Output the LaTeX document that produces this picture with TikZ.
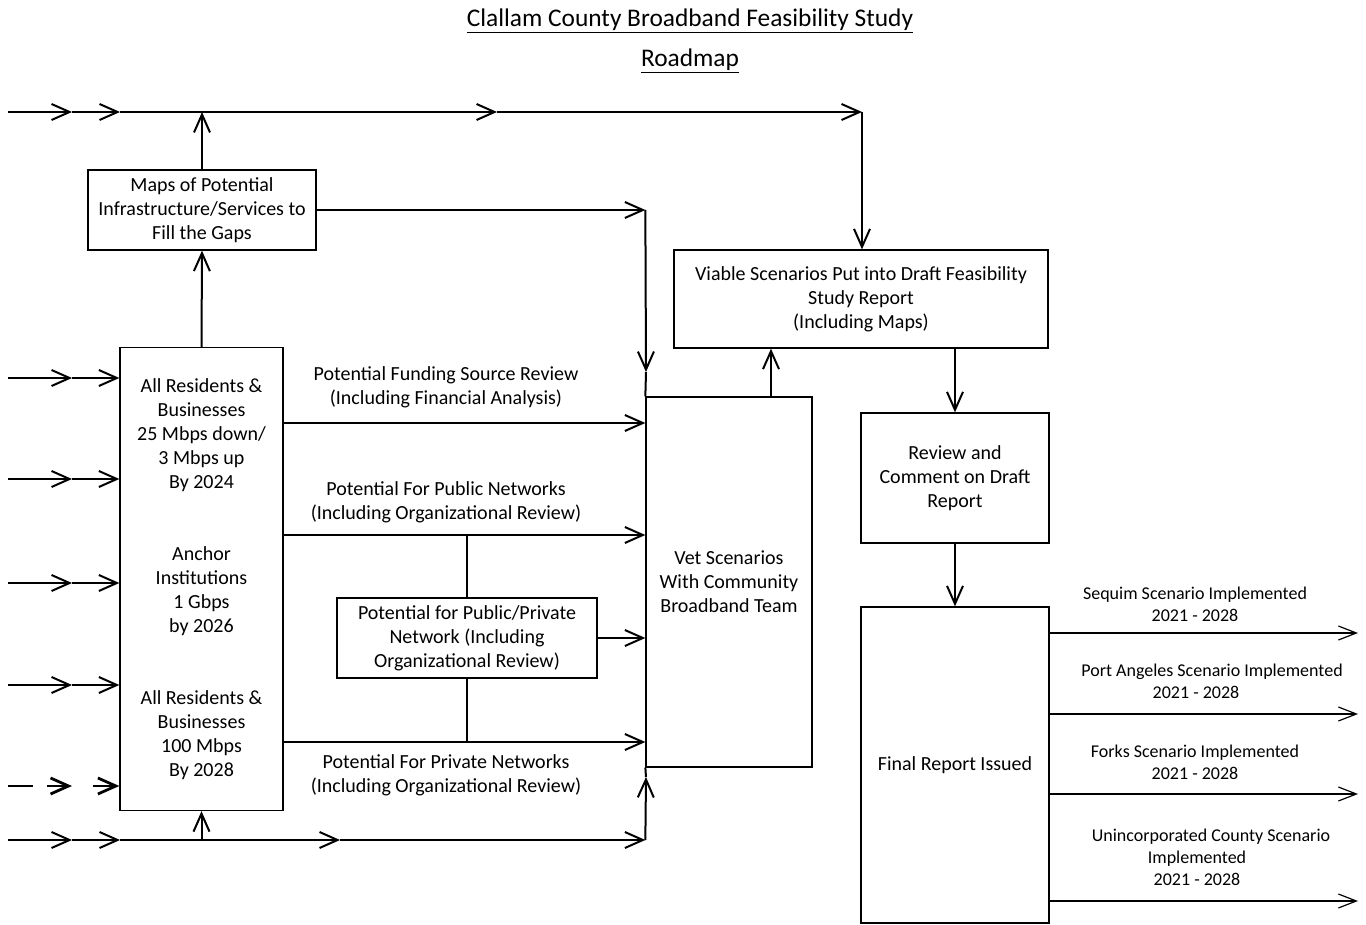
\documentclass[tikz,border=0pt]{standalone}
\usepackage{fontspec}
\setmainfont{Carlito}
\usetikzlibrary{arrows.meta}
\begin{document}
\begin{tikzpicture}[x=1pt,y=-1pt,
  box/.style={draw, line width=1.3pt, align=center, inner sep=0pt, font=\fontsize{20}{24}\selectfont},
  lbl/.style={align=center, inner sep=0pt, font=\fontsize{20}{24}\selectfont},
  tlbl/.style={align=center, inner sep=0pt, font=\fontsize{25.4}{30}\selectfont},
  slbl/.style={align=center, inner sep=0pt, font=\fontsize{18}{22}\selectfont},
  arr/.style={line width=2pt, -{Straight Barb[length=18pt,width=16pt]}},
  ln/.style={line width=2pt},
  midln/.style={line width=1.5pt},
  thinarr/.style={line width=1.2pt, -{Straight Barb[length=18pt,width=14pt]}},
]
\useasboundingbox[fill=white] (0,0) rectangle (1366,925);

% titles
\node[tlbl] (title) at (690,21) {\underline{Clallam County Broadband Feasibility Study}};
\node[tlbl] (rm) at (690,61) {\underline{Roadmap}};

% boxes
\node[box, minimum width=228pt, minimum height=80pt] (maps) at (202,210) {Maps of Potential\\Infrastructure/Services to\\Fill the Gaps};
\node[box, minimum width=163pt, minimum height=463pt] (goals) at (201.5,579) {All Residents \&\\Businesses\\25 Mbps down/\\3 Mbps up\\By 2024\\[48pt]Anchor\\Institutions\\1 Gbps\\by 2026\\[48pt]All Residents \&\\Businesses\\100 Mbps\\By 2028};
\node[box, minimum width=166pt, minimum height=370pt] (vet) at (729,582) {Vet Scenarios\\With Community\\Broadband Team};
\node[box, minimum width=374pt, minimum height=98pt] (viable) at (861,299) {Viable Scenarios Put into Draft Feasibility\\Study Report\\(Including Maps)};
\node[box, minimum width=188pt, minimum height=130pt] (review) at (955,478) {Review and\\Comment on Draft\\Report};
\node[box, minimum width=188pt, minimum height=316pt] (final) at (955,765) {Final Report Issued};
\node[box, minimum width=260pt, minimum height=80pt] (pp) at (467,638) {Potential for Public/Private\\Network (Including\\Organizational Review)};

% top line
\coordinate (tA) at (8,112);
\coordinate (tB) at (72,112);
\coordinate (tC) at (120,112);
\coordinate (tD) at (497,112);
\coordinate (tE) at (862,112);
\draw[arr] (tA) -- (tB);
\draw[arr] (tB) -- (tC);
\draw[arr] (tC) -- (tD);
\draw[arr] (tD) -- (tE);
\draw[arr] (tE) -- (tE |- viable.north);
\draw[arr] (maps.north) -- (maps.north |- tA);
\draw[arr] (goals.north) -- (maps.south);

% maps to vet
\coordinate (m1) at (vet.west |- maps.east);
\coordinate (m2) at (646,372);
\draw[arr] (maps.east) -- (m1);
\draw[arr] (m1) -- (m2);
\draw[ln] (m2) -- (vet.north west);

% middle connectors
\coordinate (yF) at (0,423);
\coordinate (yPu) at (0,535);
\coordinate (yPr) at (0,742);
\draw[arr] (goals.east |- yF) -- (vet.west |- yF);
\draw[arr] (goals.east |- yPu) -- (vet.west |- yPu);
\draw[arr] (goals.east |- yPr) -- (vet.west |- yPr);
\draw[midln] (pp.north |- yPu) -- (pp.north);
\draw[midln] (pp.south) -- (pp.south |- yPr);
\draw[arr] (pp.east) -- (vet.west |- pp.east);

\node[lbl] (lF) at (446,387) {Potential Funding Source Review\\(Including Financial Analysis)};
\node[lbl] (lPu) at (446,502) {Potential For Public Networks\\(Including Organizational Review)};
\node[lbl] (lPr) at (446,775) {Potential For Private Networks\\(Including Organizational Review)};

% left inputs
\foreach \y/\n in {378/1,479/2,583/3,685/4}{
  \coordinate (ia\n) at (8,\y);
  \coordinate (ib\n) at (72,\y);
  \draw[arr] (ia\n) -- (ib\n);
  \draw[arr] (ib\n) -- (goals.west |- ib\n);
}
\coordinate (d1) at (8,786);
\coordinate (d2) at (72,786);
\draw[arr, line width=2.8pt, dash pattern=on 25pt off 14pt] (d1) -- (d2);
\draw[arr, line width=2.8pt, dash pattern=on 27pt off 21pt, dash phase=27pt] (d2) -- (goals.west |- d2);

% bottom line
\coordinate (b1) at (8,840);
\coordinate (b2) at (72,840);
\coordinate (b3) at (120,840);
\coordinate (b4) at (340,840);
\coordinate (b5) at (vet.south west |- b1);
\coordinate (b6) at (646,777);
\draw[arr] (b1) -- (b2);
\draw[arr] (b2) -- (b3);
\draw[arr] (b3) -- (b4);
\draw[arr] (b4) -- (b5);
\draw[arr] (b5) -- (b6);
\draw[ln] (b6) -- (vet.south west);
\draw[arr] (goals.south |- b1) -- (goals.south);

% right column
\draw[arr] ([xshift=42pt]vet.north) -- ([xshift=42pt]vet.north |- viable.south);
\draw[arr] (review.north |- viable.south) -- (review.north);
\draw[arr] (review.south) -- (final.north);

% outputs
\foreach \y/\n in {633/1,714/2,794/3,901/4}{
  \coordinate (o\n) at (1358,\y);
  \draw[thinarr] (final.east |- o\n) -- (o\n);
}
\node[slbl] (s1) at (1195,604) {Sequim Scenario Implemented\\2021 - 2028};
\node[slbl] (s2) at (1196,681) {\hspace*{32pt}Port Angeles Scenario Implemented\\2021 - 2028};
\node[slbl] (s3) at (1195,762) {Forks Scenario Implemented\\2021 - 2028};
\node[slbl] (s4) at (1197,857) {\hspace*{28pt}Unincorporated County Scenario\\Implemented\\2021 - 2028};
\end{tikzpicture}
\end{document}
